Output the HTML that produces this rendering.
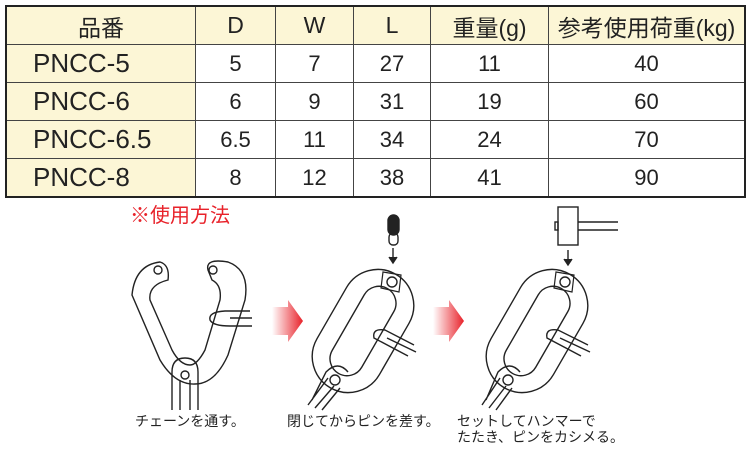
<!DOCTYPE html>
<html><head><meta charset="utf-8"><style>
body{margin:0;width:750px;height:450px;background:#fff;position:relative;overflow:hidden;font-family:"Liberation Sans","Noto Sans CJK JP",sans-serif;}
table{position:absolute;left:5px;top:5px;width:741px;height:190px;border-collapse:collapse;border:2px solid #222;}
td{border:1px solid #444;text-align:center;font-size:22px;color:#222;padding:0;height:37px;}
tr:first-child td{background:#fcf6d6;font-size:23px;}
td.n{background:#fcf6d6;text-align:left;padding-left:26px;font-size:26px;}
.t{position:absolute;font-size:14px;color:#222;line-height:16px;}
</style></head><body>
<table>
<tr><td style="width:188px">品番</td><td style="width:79px">D</td><td style="width:77px">W</td><td style="width:76px">L</td><td style="width:117px">重量(g)</td><td>参考使用荷重(kg)</td></tr>
<tr><td class="n">PNCC-5</td><td>5</td><td>7</td><td>27</td><td>11</td><td>40</td></tr>
<tr><td class="n">PNCC-6</td><td>6</td><td>9</td><td>31</td><td>19</td><td>60</td></tr>
<tr><td class="n">PNCC-6.5</td><td>6.5</td><td>11</td><td>34</td><td>24</td><td>70</td></tr>
<tr><td class="n">PNCC-8</td><td>8</td><td>12</td><td>38</td><td>41</td><td>90</td></tr>
</table>
<div class="t" style="left:130px;top:205px;font-size:20px;color:#e8222a;line-height:22px">※使用方法</div>
<svg width="750" height="450" style="position:absolute;left:0;top:0">
<defs><linearGradient id="g" x1="0" x2="1"><stop offset="0" stop-color="#fff"/><stop offset="1" stop-color="#e8222a"/></linearGradient></defs>
<g fill="none" stroke="#222" stroke-width="1.4">
<path d="M160 262 Q135 265 132 295 L160 360 Q175 385 195 384 Q215 384 228 355 L245 300 Q250 270 228 262 Q205 258 208 270 L212 280 Q222 285 220 300 L205 350 Q197 365 190 365 Q180 365 172 350 L150 300 Q148 285 168 280 Q170 265 160 262Z"/>
<circle cx="158" cy="270" r="4"/><circle cx="213" cy="270" r="4"/>
<path d="M172 410 L172 372 Q172 358 185 358 Q198 358 198 372 L198 410"/>
<path d="M180 410 L180 380 M190 410 L190 380"/><circle cx="185" cy="375" r="4"/>
<path d="M250 311 L225 311 Q208 312 210 320 Q213 326 230 326 L252 326 M252 318 L230 318"/>
<g transform="translate(363,331) rotate(30)"><rect x="-36" y="-65.5" width="72" height="131" rx="36"/><rect x="-17" y="-49" width="34" height="98" rx="17"/></g>
<circle cx="392" cy="282" r="5"/><path d="M383 272 L401 275 L399 292 L381 288Z" stroke-width="1.2"/>
<circle cx="335" cy="380" r="5"/><path d="M308 405 L328 378 M315 408 L334 386 M322 410 L340 388 M312 400 L326 372 Q338 360 348 372"/>
<path d="M414 345 L385 330 Q372 328 374 338 L408 356 M416 352 L387 338"/>
<rect x="388" y="215" width="11" height="20" rx="5.5" fill="#222"/><rect x="389" y="233" width="9" height="12" rx="4"/>
<path d="M393 248 L393 262"/><path d="M389 257 L393 263 L397 257" fill="#222"/>
<g transform="translate(537,331) rotate(30)"><rect x="-36" y="-65.5" width="72" height="131" rx="36"/><rect x="-17" y="-49" width="34" height="98" rx="17"/></g>
<circle cx="565" cy="282" r="5"/><path d="M556 272 L574 275 L572 292 L554 288Z" stroke-width="1.2"/>
<circle cx="508" cy="380" r="5"/><path d="M482 405 L500 378 M489 408 L506 386 M496 410 L512 388 M486 400 L498 372 Q510 360 520 372"/>
<path d="M588 345 L558 330 Q545 328 547 338 L581 356 M590 352 L560 338"/>
<rect x="558" y="207" width="20" height="38"/><rect x="555" y="222" width="3" height="8"/><path d="M578 222 L618 222 M578 230 L618 230"/>
<path d="M568 250 L568 264"/><path d="M564 259 L568 265 L572 259" fill="#222"/>
</g>
<path d="M272 307 L288 307 L288 300 L303 321 L288 342 L288 335 L272 335Z" fill="url(#g)"/>
<path d="M433 307 L449 307 L449 300 L464 321 L449 342 L449 335 L433 335Z" fill="url(#g)"/>
</svg>
<div class="t" style="left:135px;top:413px">チェーンを通す。</div>
<div class="t" style="left:287px;top:413px">閉じてからピンを差す。</div>
<div class="t" style="left:457px;top:413px">セットしてハンマーで<br>たたき、ピンをカシメる。</div>
</body></html>
